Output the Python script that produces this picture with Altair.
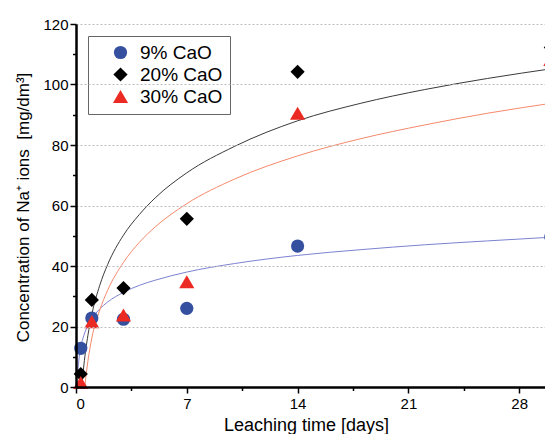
import altair as alt
import pandas as pd

# ---- data ----
series = ["9% CaO", "20% CaO", "30% CaO"]
curves = ["fit 9% CaO", "fit 20% CaO", "fit 30% CaO"]
days = [0.3, 1, 3, 7, 14, 30]
na_9 = [12.8, 22.8, 22.4, 26.0, 46.6, 49.6]
na_20 = [4.3, 28.8, 32.7, 55.6, 104.2, 112.2]
na_30 = [1.5, 21.6, 23.8, 34.8, 90.5, 108.3]

fit9_x = [0.1, 0.2, 0.3, 0.5, 0.75, 1, 1.5, 2, 3, 4, 5, 7, 10, 14, 18, 22, 26, 30.3]
fit9_y = [4.5, 9.8, 13.1, 17.1, 20.3, 22.6, 25.8, 28.1, 31.3, 33.6, 35.3, 38.0, 40.8, 43.5, 45.4, 47.0, 48.3, 49.6]
fit20_x = [0.37, 0.5, 0.75, 1, 1.5, 2, 3, 4, 5, 7, 10, 14, 18, 22, 26, 30.3]
fit20_y = [0, 7.3, 17, 24, 33.6, 40.5, 50.2, 57, 62.5, 70.8, 79.5, 88, 93.8, 98.3, 102, 105.4]
fit30_x = [0.55, 0.75, 1, 1.5, 2, 3, 4, 5, 7, 10, 14, 18, 22, 26, 30.3]
fit30_y = [0, 8.5, 16.2, 25.4, 32, 41.2, 47.8, 52.9, 60.6, 68.7, 76.4, 82.1, 86.6, 90.5, 94]

x_major = [0, 7, 14, 21, 28]
x_minor = [3.5, 10.5, 17.5, 24.5]
y_major = [0, 20, 40, 60, 80, 100, 120]
y_minor = [10, 30, 50, 70, 90, 110]

point_colors = ["#3650a0", "#000000", "#ec2a24"]
line_colors = ["#7c82d2", "#3a3a3a", "#f5896c"]
shapes = ["circle", "diamond", "triangle-up"]
sizes = [175, 230, 200]

# ---- tables ----
pts = pd.DataFrame({
    "day": days * 3,
    "conc": na_9 + na_20 + na_30,
    "series": [series[0]] * 6 + [series[1]] * 6 + [series[2]] * 6,
})
fits = pd.DataFrame({
    "day": fit9_x + fit20_x + fit30_x,
    "conc": fit9_y + fit20_y + fit30_y,
    "curve": [curves[0]] * len(fit9_x) + [curves[1]] * len(fit20_x) + [curves[2]] * len(fit30_x),
})

FONT = "Liberation Sans"
xscale = alt.Scale(domain=[0, 29.63], nice=False, zero=False)
yscale = alt.Scale(domain=[0, 120], nice=False)

lines = alt.Chart(fits).mark_line(strokeWidth=1, clip=True, interpolate="monotone").encode(
    x=alt.X("day:Q", scale=xscale, axis=None),
    y=alt.Y("conc:Q", scale=yscale, axis=None),
    stroke=alt.Stroke("curve:N", scale=alt.Scale(domain=curves, range=line_colors), legend=None),
    detail="curve:N",
)

leg = alt.Legend(title=None, orient="none", legendX=12, legendY=12)

points = alt.Chart(pts).mark_point(filled=True, opacity=1, strokeWidth=0).encode(
    x=alt.X("day:Q", scale=xscale, axis=alt.Axis(
        values=x_major, title="Leaching time [days]", titleX=230, titlePadding=5,
        tickSize=6, labelPadding=3, grid=False, orient="bottom",
        domainColor="black", domainWidth=2.5, zindex=1)),
    y=alt.Y("conc:Q", scale=yscale, axis=alt.Axis(
        values=y_major, title="Concentration of Na\u207a ions\u00a0 [mg/dm\u00b3]",
        titleY=183, titleFontSize=17, titlePadding=10, tickSize=6, labelPadding=2, grid=True,
        gridColor="#bdbdbd", gridDash=[2, 2], gridWidth=1, orient="left",
        domainColor="black", domainWidth=2.5, zindex=1)),
    color=alt.Color("series:N", scale=alt.Scale(domain=series, range=point_colors), legend=leg),
    shape=alt.Shape("series:N", scale=alt.Scale(domain=series, range=shapes), legend=leg),
    size=alt.Size("series:N", scale=alt.Scale(domain=series, range=sizes), legend=leg),
)

minor = alt.Chart(pts).mark_point(opacity=0).encode(
    x=alt.X("day:Q", scale=xscale, axis=alt.Axis(
        values=x_minor, labels=False, domain=False, grid=False, tickSize=3.5,
        title=None, orient="bottom")),
    y=alt.Y("conc:Q", scale=yscale, axis=alt.Axis(
        values=y_minor, labels=False, domain=False, grid=False, tickSize=3.5,
        title=None, orient="left")),
)

chart = alt.layer(lines, points, minor).resolve_axis(
    x="independent", y="independent"
).properties(
    width=469, height=363,
    padding={"left": 68, "top": 16, "right": 0, "bottom": 47},
    autosize=alt.AutoSizeParams(type="none"),
).configure_view(stroke=None).configure_axis(
    labelFont=FONT, labelFontSize=15, labelColor="black",
    titleFont=FONT, titleFontSize=18, titleFontWeight="normal", titleColor="black",
    domainColor="black", domainWidth=2, tickColor="black", tickWidth=1.5,
).configure_legend(
    labelFont=FONT, labelFontSize=19, labelColor="black",
    padding=7, symbolOffset=16, labelOffset=10, rowPadding=2,
    strokeColor="#666666", fillColor="white", cornerRadius=0,
)

chart.save("out.html", embed_options={"renderer": "svg", "actions": False})
